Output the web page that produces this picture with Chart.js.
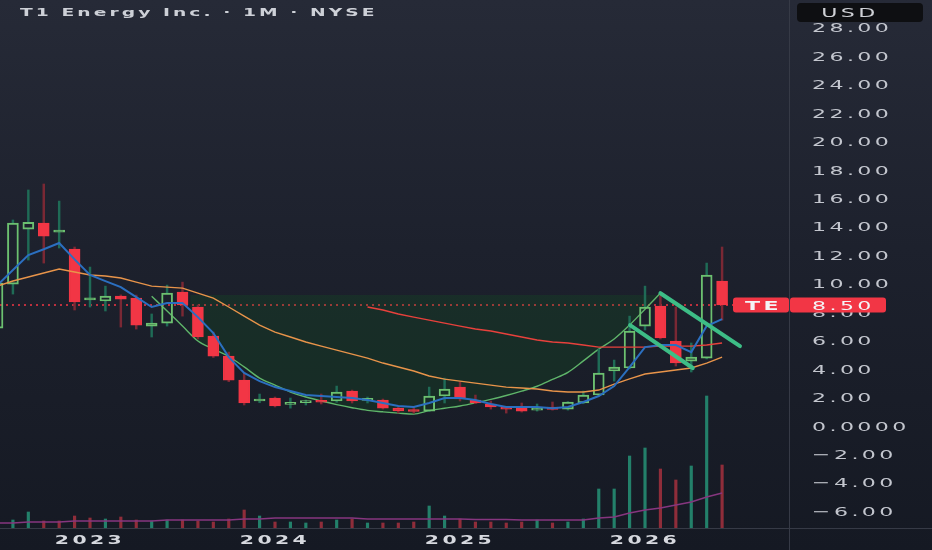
<!DOCTYPE html>
<html>
<head>
<meta charset="utf-8">
<title>T1 Energy Inc. · 1M · NYSE</title>
<script src="https://cdn.jsdelivr.net/npm/chart.js@4.4.1/dist/chart.umd.min.js"></script>
<style>
  html, body { margin: 0; padding: 0; }
  body {
    width: 932px; height: 550px; overflow: hidden;
    background: linear-gradient(to bottom, #262a37 0%, #1d212d 45%, #151923 100%);
  }
</style>
</head>
<body>
<canvas id="chart" width="932" height="550"></canvas>
<script>
// Monthly candles, Jul 2022 .. Jun 2026
const months = [
  'Jul 2022','Aug 2022','Sep 2022','Oct 2022','Nov 2022','Dec 2022',
  'Jan 2023','Feb 2023','Mar 2023','Apr 2023','May 2023','Jun 2023',
  'Jul 2023','Aug 2023','Sep 2023','Oct 2023','Nov 2023','Dec 2023',
  'Jan 2024','Feb 2024','Mar 2024','Apr 2024','May 2024','Jun 2024',
  'Jul 2024','Aug 2024','Sep 2024','Oct 2024','Nov 2024','Dec 2024',
  'Jan 2025','Feb 2025','Mar 2025','Apr 2025','May 2025','Jun 2025',
  'Jul 2025','Aug 2025','Sep 2025','Oct 2025','Nov 2025','Dec 2025',
  'Jan 2026','Feb 2026','Mar 2026','Apr 2026','May 2026','Jun 2026'
];
const open  = [6.87, 9.96, 13.83, 14.25, 13.72, 12.43, 8.98, 8.77, 9.12, 8.98, 7.01, 7.22,
               9.40, 8.35, 6.31, 4.90, 3.21, 1.74, 1.95, 1.50, 1.63, 1.74, 1.74, 2.44,
               1.78, 1.81, 1.24, 1.08, 1.03, 2.09, 2.72, 1.81, 1.53, 1.24, 1.24, 1.10,
               1.32, 1.17, 1.60, 2.16, 3.85, 4.06, 7.01, 8.42, 5.96, 4.55, 4.76, 10.18];
const high  = [10.30, 14.47, 16.58, 17.00, 15.80, 12.57, 11.16, 9.82, 9.20, 9.19, 7.86, 9.89,
               10.10, 8.49, 6.59, 5.18, 3.71, 2.23, 2.02, 1.95, 1.81, 2.23, 2.79, 2.51,
               2.02, 1.88, 1.30, 1.32, 2.72, 3.35, 3.07, 2.16, 1.74, 1.32, 1.60, 1.53,
               1.67, 1.70, 2.44, 5.39, 4.62, 7.71, 9.82, 9.33, 8.35, 5.82, 11.44, 12.57];
const low   = [6.60, 9.26, 11.65, 11.44, 12.50, 8.14, 8.35, 8.07, 6.94, 6.80, 6.24, 7.01,
               7.71, 6.10, 4.80, 3.10, 1.46, 1.62, 1.32, 1.24, 1.46, 1.53, 1.65, 1.60,
               1.60, 1.17, 0.90, 0.89, 1.00, 1.60, 1.74, 1.55, 1.17, 0.89, 0.96, 1.03,
               1.10, 1.10, 1.55, 2.10, 3.14, 4.00, 6.73, 6.10, 4.20, 3.78, 4.70, 7.43];
const close = [10.04, 14.25, 14.30, 13.34, 13.62, 8.70, 8.85, 9.12, 8.91, 7.08, 7.22, 9.33,
               8.49, 6.24, 4.90, 3.21, 1.60, 1.88, 1.39, 1.55, 1.68, 1.65, 2.37, 1.74,
               1.84, 1.24, 1.05, 1.00, 2.09, 2.58, 1.88, 1.60, 1.32, 1.17, 1.03, 1.17,
               1.14, 1.67, 2.16, 3.71, 4.13, 6.66, 8.35, 6.17, 4.41, 4.83, 10.60, 8.50];
// volume, millions of shares
const volume = [12, 16, 32, 14, 14, 24, 20, 18, 22, 16, 14, 16,
                16, 14, 12, 18, 36, 24, 12, 12, 10, 12, 16, 18,
                10, 10, 10, 12, 44, 24, 18, 12, 12, 10, 12, 16,
                10, 12, 18, 78, 78, 144, 160, 118, 96, 124, 264, 126];
const volumeMa = [10, 10, 12, 12, 12, 14, 14, 14, 14, 14, 14, 16,
                  16, 16, 16, 16, 18, 18, 20, 20, 20, 20, 20, 20,
                  18, 18, 18, 18, 18, 18, 18, 17, 17, 17, 16, 16,
                  16, 16, 16, 20, 22, 30, 36, 40, 46, 52, 62, 70];
// moving averages
const maFast = [9.89, 10.95, 12.00, 12.41, 12.85, 11.70, 10.60, 10.17, 9.75, 9.05, 8.35, 8.63,
                8.63, 7.64, 6.52, 4.83, 3.71, 3.14, 2.72, 2.44, 2.16, 2.09, 2.02, 1.95,
                1.81, 1.60, 1.39, 1.32, 1.60, 1.95, 1.95, 1.81, 1.53, 1.32, 1.32, 1.32,
                1.24, 1.32, 1.67, 2.09, 2.79, 4.13, 5.53, 5.68, 5.68, 5.18, 7.01, 7.50];
const maMid  = [9.82, 10.18, 10.46, 10.74, 11.02, 10.81, 10.60, 10.53, 10.39, 10.10, 9.82, 9.75,
                9.68, 9.33, 8.98, 8.35, 7.71, 7.08, 6.59, 6.24, 5.89, 5.60, 5.32, 5.04,
                4.76, 4.41, 4.13, 3.85, 3.50, 3.28, 3.14, 3.00, 2.86, 2.72, 2.65, 2.58,
                2.44, 2.37, 2.37, 2.51, 2.93, 3.30, 3.64, 3.78, 3.92, 4.06, 4.41, 4.83];
const maSlow = [null, null, null, null, null, null, null, null, null, null, null, null,
                null, null, null, null, null, null, null, null, null, null, null, null,
                8.35, 8.14, 7.86, 7.64, 7.43, 7.22, 7.01, 6.80, 6.66, 6.45, 6.24, 6.03,
                5.89, 5.82, 5.68, 5.53, 5.53, 5.53, 5.53, 5.60, 5.60, 5.60, 5.68, 5.82];
// drawings: cup arc, shaded zone under the rim, flag trendlines
const cup = [null, null, null, null, null, null, null, null, null, null, 9.11, 8.07,
             7.01, 5.96, 5.39, 4.87, 4.14, 3.35, 2.86, 2.37, 2.02, 1.74, 1.49, 1.27,
             1.08, 0.98, 0.89, 0.82, 1.06, 1.23, 1.39, 1.61, 1.86, 2.13, 2.44, 2.78,
             3.26, 3.76, 4.56, 5.39, 6.10, 7.08, 8.20, 9.33, null, null, null, null];
const rimPrice = 9.19;
const rimSpan = [12.5, 43];
const flagLower = [[41.03, 7.07], [45.1, 4.06]];
const flagUpper = [[43.0, 9.32], [48.16, 5.6]];
const priceTicks = [28, 26, 24, 22, 20, 18, 16, 14, 12, 10, 8, 6, 4, 2, 0, -2, -4, -6];

const UP = '#6cc070', DOWN = '#f23645';
const WICK_UP = '#1f6b56', WICK_DOWN = '#7a2834';
const VOL_UP = '#23806a', VOL_DOWN = '#8f2d3a';

const idx = months.map((m, i) => i);
const isGreen = idx.map(i => close[i] >= (i ? close[i - 1] : open[i]));
const hollow = idx.map(i => close[i] > open[i]);
const candleColor = idx.map(i => isGreen[i] ? UP : DOWN);
const wickColor = idx.map(i => isGreen[i] ? WICK_UP : WICK_DOWN);

const bodies = idx.map(i => ({ x: i, y: [Math.min(open[i], close[i]), Math.max(open[i], close[i])] }));
const wickHi = idx.map(i => ({ x: i, y: [Math.max(open[i], close[i]), high[i]] }));
const wickLo = idx.map(i => ({ x: i, y: [low[i], Math.min(open[i], close[i])] }));
const vols = idx.map(i => ({ x: i, y: volume[i] }));
const series = arr => arr.map((v, i) => ({ x: i, y: v })).filter(p => p.y !== null);
const pairs = arr => arr.map(p => ({ x: p[0], y: p[1] }));

function stretchText(ctx, text, x, y, o) {
  ctx.save();
  ctx.font = o.font;
  ctx.fillStyle = o.color;
  ctx.letterSpacing = o.ls || '0px';
  ctx.textBaseline = 'alphabetic';
  ctx.textAlign = 'left';
  const w = ctx.measureText(text).width;
  ctx.translate(x, y + o.size * 0.365);
  ctx.scale(o.sx, 1);
  let dx = 0;
  if (o.align === 'center') dx = -w / 2;
  if (o.align === 'right') dx = -w;
  ctx.fillText(text, dx, 0);
  ctx.restore();
}

function roundBox(ctx, x, y, w, h, r, fill) {
  ctx.beginPath();
  ctx.roundRect(x, y, w, h, r);
  ctx.fillStyle = fill;
  ctx.fill();
}

const tickFont = { font: '13px "DejaVu Sans"', size: 13, sx: 1.7, ls: '2px', color: '#c3c6ce' };

const overlay = {
  id: 'overlay',
  beforeDatasetsDraw(chart) {
    const { ctx, chartArea, scales } = chart;
    const py = scales.y.getPixelForValue(close[close.length - 1]);
    ctx.save();
    ctx.strokeStyle = DOWN;
    ctx.lineWidth = 1.5;
    ctx.setLineDash([2, 4]);
    ctx.beginPath();
    ctx.moveTo(chartArea.left, py);
    ctx.lineTo(chartArea.right, py);
    ctx.stroke();
    ctx.restore();
  },
  afterDraw(chart) {
    const { ctx, chartArea, scales } = chart;
    const right = chartArea.right;

    // axis separators
    ctx.save();
    ctx.strokeStyle = '#363a46';
    ctx.lineWidth = 1;
    ctx.beginPath();
    ctx.moveTo(right + 0.5, 0);
    ctx.lineTo(right + 0.5, chart.height);
    ctx.moveTo(0, chartArea.bottom + 0.5);
    ctx.lineTo(chart.width, chartArea.bottom + 0.5);
    ctx.stroke();
    ctx.restore();

    // price scale labels
    priceTicks.forEach(v => {
      const label = v === 0 ? '0.0000' : (v < 0 ? '\u2212' + Math.abs(v).toFixed(2) : v.toFixed(2));
      stretchText(ctx, label, right + 23, scales.y.getPixelForValue(v), tickFont);
    });

    // last price label
    const last = close[close.length - 1];
    const py = scales.y.getPixelForValue(last);
    roundBox(ctx, right - 56, py - 7.5, 56, 15, 3, DOWN);
    roundBox(ctx, right + 1, py - 7.5, 96, 15, 3, DOWN);
    stretchText(ctx, 'TE', right - 44, py, { ...tickFont, color: '#f4f4f6', font: 'bold 13px "DejaVu Sans"' });
    stretchText(ctx, last.toFixed(2), right + 23, py, { ...tickFont, color: '#f4f4f6' });

    // currency box
    roundBox(ctx, right + 8, 3, 126, 19, 4, '#0e0f12');
    stretchText(ctx, 'USD', right + 61, 12.5, { ...tickFont, align: 'center', color: '#cfd1d6' });

    // year labels on January candles
    months.forEach((m, i) => {
      if (m.startsWith('Jan')) {
        stretchText(ctx, m.slice(4), scales.x.getPixelForValue(i), 539.5,
          { font: 'bold 12px "DejaVu Sans"', size: 12, sx: 1.7, ls: '2px', color: '#d6d8de', align: 'center' });
      }
    });

    // title
    stretchText(ctx, 'T1 Energy Inc. \u00b7 1M \u00b7 NYSE', 20, 12,
      { font: 'bold 11px "DejaVu Sans"', size: 11, sx: 1.7, ls: '1.8px', color: '#cdd0d7' });
  }
};

const CUP = 1;
const chart = new Chart(document.getElementById('chart'), {
  type: 'bar',
  data: {
    datasets: [
      {
        type: 'line', label: 'zone', data: pairs([[rimSpan[0], rimPrice], [rimSpan[1], rimPrice]]),
        borderWidth: 0, pointRadius: 0, yAxisID: 'y', order: 30,
        fill: { target: CUP, above: 'rgba(15,105,30,0.2)', below: 'rgba(15,105,30,0.2)' }
      },
      {
        type: 'line', label: 'cup', data: series(cup), borderColor: '#5fb56a', borderWidth: 1.4,
        pointRadius: 0, cubicInterpolationMode: 'monotone', fill: false, yAxisID: 'y', order: 29
      },
      {
        label: 'volume', data: vols, yAxisID: 'yv', grouped: false, barThickness: 2.5,
        backgroundColor: idx.map(i => close[i] >= open[i] ? VOL_UP : VOL_DOWN), order: 20
      },
      {
        type: 'line', label: 'volume ma', data: series(volumeMa), yAxisID: 'yv',
        borderColor: '#86367f', borderWidth: 1.5, pointRadius: 0, fill: false, order: 19
      },
      {
        label: 'wick high', data: wickHi, yAxisID: 'y', grouped: false, barThickness: 1.8,
        backgroundColor: wickColor, borderWidth: 0, order: 12
      },
      {
        label: 'wick low', data: wickLo, yAxisID: 'y', grouped: false, barThickness: 1.8,
        backgroundColor: wickColor, borderWidth: 0, order: 12
      },
      {
        label: 'body', data: bodies, yAxisID: 'y', grouped: false, barThickness: 11, minBarLength: 2,
        backgroundColor: idx.map(i => hollow[i] ? 'rgba(0,0,0,0)' : candleColor[i]),
        borderColor: candleColor, borderWidth: 1.3, borderSkipped: false, order: 11
      },
      {
        type: 'line', label: 'ma slow', data: series(maSlow), yAxisID: 'y',
        borderColor: '#e8413c', borderWidth: 1.4, pointRadius: 0, fill: false, order: 6
      },
      {
        type: 'line', label: 'ma mid', data: series(maMid), yAxisID: 'y',
        borderColor: '#e8944a', borderWidth: 1.4, pointRadius: 0, fill: false, order: 5
      },
      {
        type: 'line', label: 'ma fast', data: series(maFast), yAxisID: 'y',
        borderColor: '#2b6fc0', borderWidth: 2, pointRadius: 0, fill: false, order: 4
      },
      {
        type: 'line', label: 'flag lower', data: pairs(flagLower), yAxisID: 'y',
        borderColor: '#3dbd86', borderWidth: 4, borderCapStyle: 'round', pointRadius: 0, fill: false, order: 2
      },
      {
        type: 'line', label: 'flag upper', data: pairs(flagUpper), yAxisID: 'y',
        borderColor: '#3dbd86', borderWidth: 4, borderCapStyle: 'round', pointRadius: 0, fill: false, order: 2
      }
    ]
  },
  options: {
    responsive: false,
    animation: false,
    events: [],
    layout: { padding: { left: 0, top: 0, right: 143, bottom: 22 } },
    plugins: { legend: { display: false }, tooltip: { enabled: false } },
    scales: {
      x: { type: 'linear', display: false, offset: false, min: 0.162, max: 51.34 },
      y: { type: 'linear', display: false, min: -7.19, max: 29.94 },
      yv: { type: 'linear', display: false, min: 0, max: 1056 }
    }
  },
  plugins: [overlay]
});
</script>
</body>
</html>
